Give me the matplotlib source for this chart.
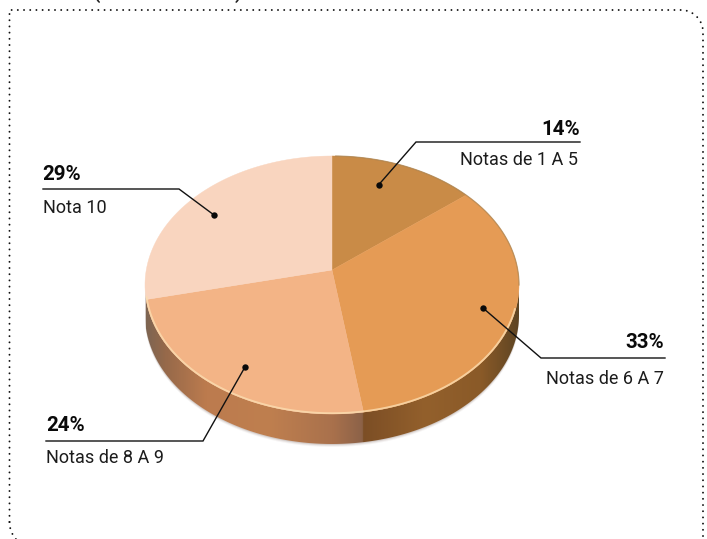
import numpy as np
import matplotlib
matplotlib.use("Agg")
import matplotlib.pyplot as plt
from matplotlib.colors import LinearSegmentedColormap
from matplotlib.patches import Polygon

categories = ["Notas de 1 A 5", "Notas de 6 A 7", "Notas de 8 A 9", "Nota 10"]
shares = [14, 33, 24, 29]
tick_labels = ["14%", "33%", "24%", "29%"]

face_colors = ["#C98B47", "#E59B55", "#F3B486", "#F9D5BF"]

regular_font = "Roboto"
bold_font = "Roboto"

plt.rcParams["lines.scale_dashes"] = False

fig = plt.figure(figsize=(7.07, 5.39), dpi=100, facecolor="white")
ax = fig.add_axes([0, 0, 1, 1])
ax.set_xlim(0, 707)
ax.set_ylim(539, 0)
ax.axis("off")

CX, CY, RX, RY = 332.0, 285.0, 187.0, 129.0
DEPTH = 30.0
TILT = 0.116
WARP = 0.038


def project(theta):
    """Map clockwise angle from 12 o'clock on a tilted disc to the picture."""
    theta = theta + WARP * (1 - np.cos(theta)) / 2
    u, v = np.sin(theta), np.cos(theta)
    den = 1 + TILT * v
    up = u * np.sqrt(1 - TILT ** 2) / den
    vp = (v + TILT) / den
    return CX + RX * up, CY - RY * vp


apex = (CX, CY - RY * TILT)
edges = 2 * np.pi * np.concatenate([[0], np.cumsum(shares)]) / np.sum(shares)

# side wall
t = np.linspace(np.pi / 2, 3 * np.pi / 2, 200)
xt, yt = CX + RX * np.sin(t), CY - RY * np.cos(t)
side = np.column_stack([np.r_[xt, xt[::-1]], np.r_[yt, (yt + DEPTH)[::-1]]])

# soft shadow under the wall
for grow, a in [(3.0, 0.06), (2.0, 0.10), (1.0, 0.16)]:
    sh = np.column_stack([np.r_[xt, xt[::-1]], np.r_[yt, (yt + DEPTH + grow)[::-1]]])
    ax.add_patch(Polygon(sh, closed=True, fc="#6b5344", ec="none", alpha=a, zorder=1))

split_x = project(edges[2])[0]
split = (split_x - 146) / 373
side_cmap = LinearSegmentedColormap.from_list(
    "side",
    [(0.00, "#7E6552"), (0.05, "#96694A"), (0.16, "#BC7B4E"), (0.33, "#BF7F4F"),
     (0.50, "#A9714C"), (split - 0.003, "#8C6248"), (split, "#7C4E25"), (0.75, "#93602C"),
     (0.90, "#8A5A28"), (1.00, "#5F4523")],
)
grad = np.linspace(0, 1, 746).reshape(1, -1)
im = ax.imshow(grad, extent=(146, 519, 460, 285), cmap=side_cmap, aspect="auto",
               zorder=2, interpolation="bilinear")
clip = Polygon(side, closed=True, transform=ax.transData, fc="none", ec="none")
ax.add_patch(clip)
im.set_clip_path(clip)
ax.set_xlim(0, 707)
ax.set_ylim(539, 0)

# pie faces
for start, stop, col in zip(edges[:-1], edges[1:], face_colors):
    a = np.linspace(start, stop, 120)
    x, y = project(a)
    ax.fill(np.r_[apex[0], x], np.r_[apex[1], y], fc=col, ec=col, lw=0.3, zorder=3)

# light rim along the front of the face, darker rim at the upper right
a = np.linspace(np.pi * 0.56, np.pi * 1.47, 200)
ax.plot(CX + (RX - 0.8) * np.sin(a), CY - (RY - 0.8) * np.cos(a), color="#FBDDB0",
        lw=1.3, alpha=0.8, zorder=4)
a = np.linspace(0.02, np.pi * 0.5, 100)
ax.plot(CX + RX * np.sin(a), CY - RY * np.cos(a), color="#A9824F", lw=0.9, alpha=0.7, zorder=4)

# leaders: dot, elbow, end
leaders = [
    [(378.5, 185), (416, 142), (580, 142)],
    [(483, 308), (541, 358), (665, 358)],
    [(245, 367), (203, 441), (46, 441)],
    [(214, 215), (179, 189), (43, 189)],
]
pct_pos = [(580, 135, "right"), (664, 348, "right"), (46, 431, "left"), (42, 180, "left")]
lab_pos = [(578, 165, "right"), (664, 384, "right"), (46, 463, "left"), (43, 213, "left")]

for pts, p, l, pct, cat in zip(leaders, pct_pos, lab_pos, tick_labels, categories):
    xs, ys = zip(*pts)
    ax.plot(xs, ys, color="#111111", lw=1.0, zorder=6, solid_joinstyle="miter")
    ax.plot(xs[0], ys[0], "o", color="#0a0a0a", ms=4.6, mew=0, zorder=7)
    ax.text(p[0], p[1], pct, ha=p[2], va="baseline", fontsize=14.8, fontweight="bold",
            family=bold_font, color="#0a0a0a", zorder=8)
    ax.text(l[0], l[1], cat, ha=l[2], va="baseline", fontsize=13.0, family=regular_font,
            color="#1c1c1c", zorder=8)

# dotted frame: square top-left, rounded top-right and bottom-left
L, T, R, B = 9.5, 10.0, 703.0, 548.0
rad = 26.0
ang = np.linspace(0, np.pi / 2, 20)
corner = 22.0
ax.plot(np.r_[L, L, R - corner + corner * np.sin(ang), R, R],
        np.r_[B - rad, T, T + corner - corner * np.cos(ang), T + corner, 539],
        color="#111111", lw=1.4, linestyle=(0, (0.01, 4.45)), dash_capstyle="round", zorder=5)
ax.plot(L + rad * (1 - np.cos(ang)), B - rad * (1 - np.sin(ang)),
        color="#111111", lw=1.4, linestyle=(0, (0.01, 4.45)), dash_capstyle="round", zorder=5)

# clipped heading fragments at the very top edge
ax.text(97, -1, "(", ha="center", va="baseline", fontsize=13, fontweight="bold",
        family=regular_font, color="#222222")
ax.text(238, -1, ")", ha="center", va="baseline", fontsize=13, fontweight="bold",
        family=regular_font, color="#222222")

fig.savefig("out.png", dpi=100)
